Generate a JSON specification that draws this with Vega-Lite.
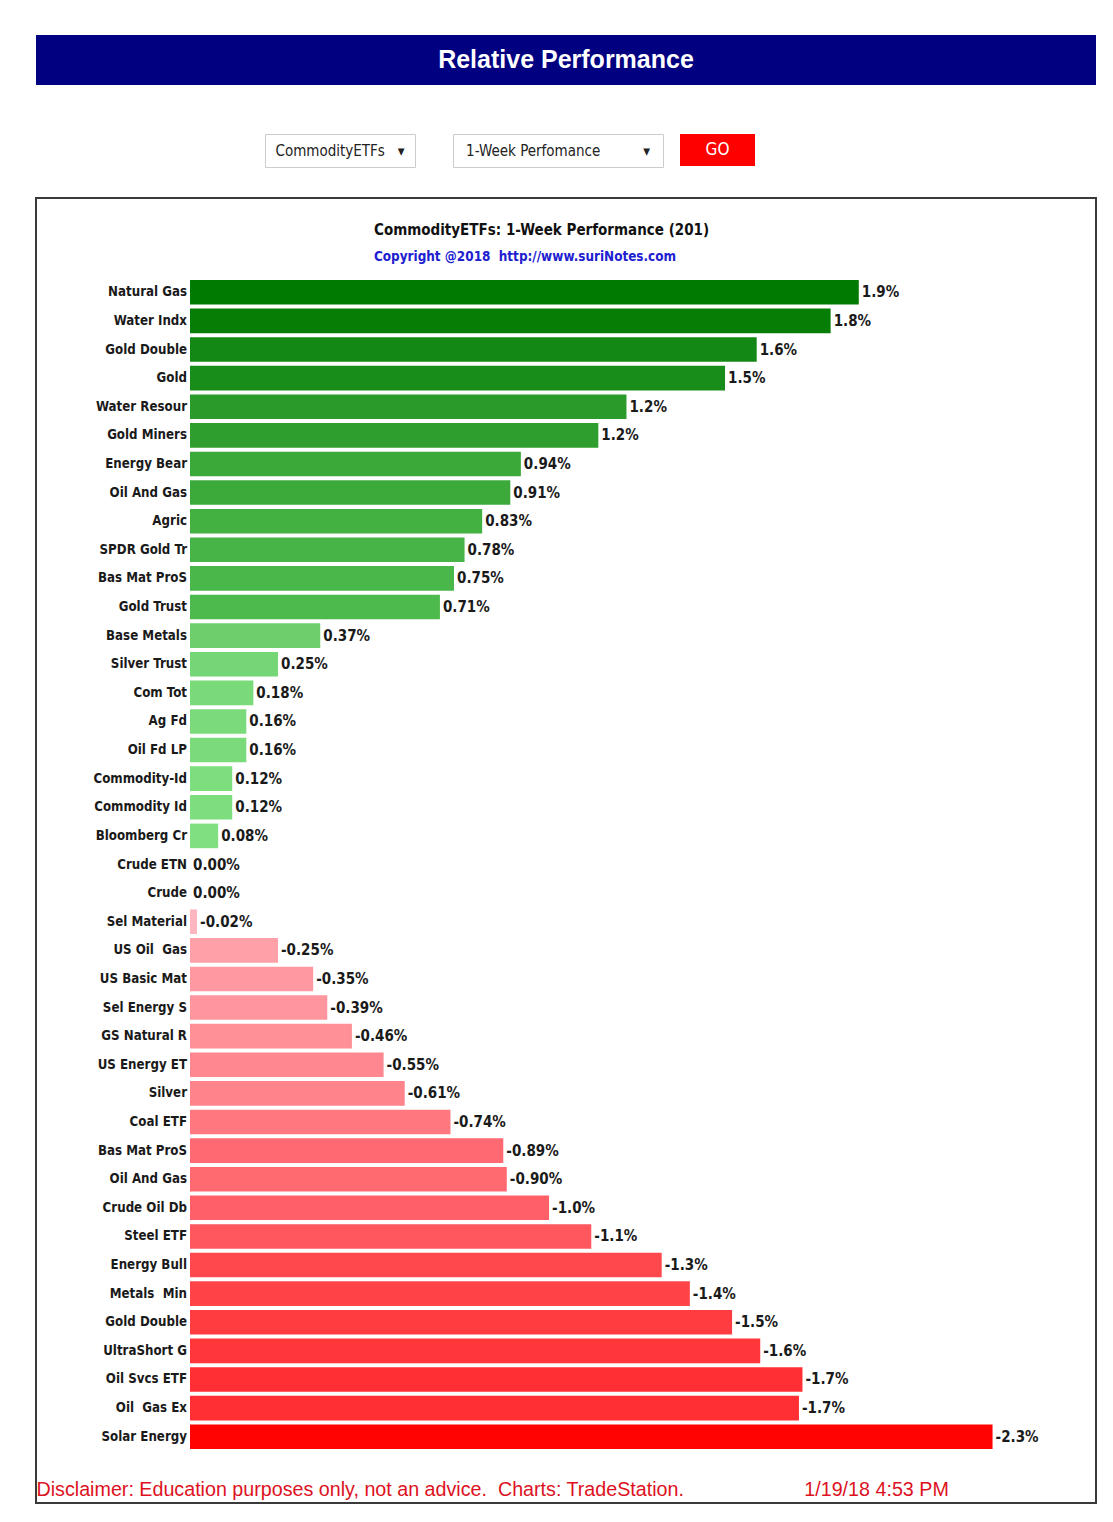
{
  "$schema": "https://vega.github.io/schema/vega-lite/v6.json",
  "background": "white",
  "padding": {"left": 35, "top": 35, "right": 0, "bottom": 0},
  "config": {
    "view": {"stroke": null},
    "locale": {"number": {"decimal": ".", "thousands": ",", "grouping": [3], "currency": ["$", ""], "minus": "-", "percent": "%"}}
  },
  "spacing": 29,
  "vconcat": [
    {
      "spacing": 48,
      "vconcat": [
        {
          "width": 1060, "height": 50,
          "view": {"fill": "#000080", "stroke": null},
          "data": {"values": [{"t": "Relative Performance"}]},
          "mark": {"type": "text", "color": "white", "font": "Liberation Sans", "fontSize": 25, "fontWeight": "bold"},
          "encoding": {"text": {"field": "t", "type": "nominal"}}
        },
        {
          "spacing": 0,
          "hconcat": [
            {"width": 228, "height": 33, "data": {"values": []}, "mark": "text", "encoding": {}},
            {
              "width": 150, "height": 33,
              "view": {"stroke": "#cccccc", "fill": "white"},
              "data": {"values": [{"t": "CommodityETFs\u00a0\u00a0\u00a0▾"}]},
              "mark": {"type": "text", "font": "DejaVu Sans Condensed, Liberation Sans, sans-serif", "fontSize": 15, "color": "#222222"},
              "encoding": {"text": {"field": "t", "type": "nominal"}}
            },
            {"width": 36, "height": 33, "data": {"values": []}, "mark": "text", "encoding": {}},
            {
              "width": 210, "height": 33,
              "view": {"stroke": "#cccccc", "fill": "white"},
              "data": {"values": [{"t": "1-Week Perfomance\u00a0\u00a0\u00a0\u00a0\u00a0\u00a0\u00a0\u00a0\u00a0\u00a0▾"}]},
              "mark": {"type": "text", "font": "DejaVu Sans Condensed, Liberation Sans, sans-serif", "fontSize": 15, "color": "#222222"},
              "encoding": {"text": {"field": "t", "type": "nominal"}}
            },
            {"width": 16, "height": 33, "data": {"values": []}, "mark": "text", "encoding": {}},
            {
              "width": 75, "height": 32,
              "view": {"fill": "#ff0000", "stroke": null},
              "data": {"values": [{"t": "GO"}]},
              "mark": {"type": "text", "font": "DejaVu Sans Condensed, Liberation Sans, sans-serif", "fontSize": 17, "color": "white"},
              "encoding": {"text": {"field": "t", "type": "nominal"}}
            }
          ]
        }
      ]
    },
    {
      "width": 1060, "height": 1305,
      "view": {"stroke": "#3a3a3a", "strokeWidth": 2},
      "title": {
        "text": "CommodityETFs: 1-Week Performance (201)",
        "subtitle": "Copyright @2018\u00a0\u00a0http://www.suriNotes.com",
        "anchor": "start",
        "offset": -65,
        "dx": 338,
        "font": "DejaVu Sans Condensed, Liberation Sans, sans-serif",
        "fontSize": 15,
        "fontWeight": "bold",
        "color": "#111111",
        "subtitleFont": "DejaVu Sans Condensed, Liberation Sans, sans-serif",
        "subtitleFontSize": 13.4,
        "subtitleFontWeight": "bold",
        "subtitleColor": "#2020d0",
        "subtitlePadding": 12
      },
      "data": {"values": [
        {"rank": 1, "name": "Natural Gas", "pct": 0.0190},
        {"rank": 2, "name": "Water Indx", "pct": 0.0182},
        {"rank": 3, "name": "Gold Double", "pct": 0.0161},
        {"rank": 4, "name": "Gold", "pct": 0.0152},
        {"rank": 5, "name": "Water Resour", "pct": 0.0124},
        {"rank": 6, "name": "Gold Miners", "pct": 0.0116},
        {"rank": 7, "name": "Energy Bear", "pct": 0.0094},
        {"rank": 8, "name": "Oil And Gas", "pct": 0.0091},
        {"rank": 9, "name": "Agric", "pct": 0.0083},
        {"rank": 10, "name": "SPDR Gold Tr", "pct": 0.0078},
        {"rank": 11, "name": "Bas Mat ProS", "pct": 0.0075},
        {"rank": 12, "name": "Gold Trust", "pct": 0.0071},
        {"rank": 13, "name": "Base Metals", "pct": 0.0037},
        {"rank": 14, "name": "Silver Trust", "pct": 0.0025},
        {"rank": 15, "name": "Com Tot", "pct": 0.0018},
        {"rank": 16, "name": "Ag Fd", "pct": 0.0016},
        {"rank": 17, "name": "Oil Fd LP", "pct": 0.0016},
        {"rank": 18, "name": "Commodity-Id", "pct": 0.0012},
        {"rank": 19, "name": "Commodity Id", "pct": 0.0012},
        {"rank": 20, "name": "Bloomberg Cr", "pct": 0.0008},
        {"rank": 21, "name": "Crude ETN", "pct": 0.0},
        {"rank": 22, "name": "Crude", "pct": 0.0},
        {"rank": 23, "name": "Sel Material", "pct": -0.0002},
        {"rank": 24, "name": "US Oil\u00a0 Gas", "pct": -0.0025},
        {"rank": 25, "name": "US Basic Mat", "pct": -0.0035},
        {"rank": 26, "name": "Sel Energy S", "pct": -0.0039},
        {"rank": 27, "name": "GS Natural R", "pct": -0.0046},
        {"rank": 28, "name": "US Energy ET", "pct": -0.0055},
        {"rank": 29, "name": "Silver", "pct": -0.0061},
        {"rank": 30, "name": "Coal ETF", "pct": -0.0074},
        {"rank": 31, "name": "Bas Mat ProS", "pct": -0.0089},
        {"rank": 32, "name": "Oil And Gas", "pct": -0.0090},
        {"rank": 33, "name": "Crude Oil Db", "pct": -0.0102},
        {"rank": 34, "name": "Steel ETF", "pct": -0.0114},
        {"rank": 35, "name": "Energy Bull", "pct": -0.0134},
        {"rank": 36, "name": "Metals\u00a0 Min", "pct": -0.0142},
        {"rank": 37, "name": "Gold Double", "pct": -0.0154},
        {"rank": 38, "name": "UltraShort G", "pct": -0.0162},
        {"rank": 39, "name": "Oil Svcs ETF", "pct": -0.0174},
        {"rank": 40, "name": "Oil\u00a0 Gas Ex", "pct": -0.0173},
        {"rank": 41, "name": "Solar Energy", "pct": -0.0228}
      ]},
      "encoding": {
        "y": {"field": "rank", "type": "ordinal", "axis": null,
              "scale": {"range": [82, 1251], "paddingInner": 0.14, "paddingOuter": 0}}
      },
      "layer": [
        {
          "transform": [{"filter": "datum.pct >= 0"}],
          "layer": [
            {
              "mark": {"type": "bar"},
              "encoding": {
                "x": {"field": "pct", "type": "quantitative",
                      "scale": {"domain": [-0.004375, 0.025739], "nice": false, "zero": false},
                      "axis": null},
                "color": {"field": "pct", "type": "quantitative", "legend": null,
                          "scale": {
                            "domain": [-0.023, -0.0172, -0.014, -0.01, -0.0074, -0.0046, -0.0025, -0.0002, 0, 0.0008, 0.0037, 0.0071, 0.009, 0.012, 0.015, 0.019],
                            "range": ["#ff0000", "#ff3034", "#ff4448", "#ff6068", "#ff7880", "#ff9098", "#ffa0a8", "#ffb6c1", "#80e080", "#80e080", "#6ccf6c", "#4cba4c", "#3cab3c", "#2c9c2c", "#1a8e1a", "#007a00"]
                          }}
              }
            },
            {
              "mark": {"type": "text", "align": "left", "dx": 3, "font": "DejaVu Sans Condensed, Liberation Sans, sans-serif", "fontSize": 15, "fontWeight": "bold", "color": "#1a1a1a"},
              "encoding": {
                "x": {"field": "pct", "type": "quantitative",
                      "scale": {"domain": [-0.004375, 0.025739], "nice": false, "zero": false}, "axis": null},
                "text": {"condition": {"test": "abs(datum.pct) >= 0.0095", "field": "pct", "type": "quantitative", "format": ".1%"},
                         "field": "pct", "type": "quantitative", "format": ".2%"}
              }
            }
          ]
        },
        {
          "transform": [{"filter": "datum.pct < 0"}],
          "layer": [
            {
              "mark": {"type": "bar"},
              "encoding": {
                "x": {"field": "pct", "type": "quantitative",
                      "scale": {"domain": [-0.025739, 0.004375], "reverse": true, "nice": false, "zero": false},
                      "axis": null},
                "color": {"field": "pct", "type": "quantitative", "legend": null}
              }
            },
            {
              "mark": {"type": "text", "align": "left", "dx": 3, "font": "DejaVu Sans Condensed, Liberation Sans, sans-serif", "fontSize": 15, "fontWeight": "bold", "color": "#1a1a1a"},
              "encoding": {
                "x": {"field": "pct", "type": "quantitative",
                      "scale": {"domain": [-0.025739, 0.004375], "reverse": true, "nice": false, "zero": false}, "axis": null},
                "text": {"condition": {"test": "abs(datum.pct) >= 0.0095", "field": "pct", "type": "quantitative", "format": ".1%"},
                         "field": "pct", "type": "quantitative", "format": ".2%"}
              }
            }
          ]
        },
        {
          "mark": {"type": "text", "align": "right", "dx": -3, "font": "DejaVu Sans Condensed, Liberation Sans, sans-serif", "fontSize": 13.2, "fontWeight": "bold", "color": "#1a1a1a"},
          "encoding": {
            "x": {"datum": 0, "type": "quantitative",
                  "scale": {"domain": [-0.004375, 0.025739], "nice": false, "zero": false},
                  "axis": {
                    "orient": "bottom",
                    "title": "Disclaimer: Education purposes only, not an advice.\u00a0\u00a0Charts: TradeStation.\u00a0\u00a0\u00a0\u00a0\u00a0\u00a0\u00a0\u00a0\u00a0\u00a0\u00a0\u00a0\u00a0\u00a0\u00a0\u00a0\u00a0\u00a0\u00a0\u00a0\u00a0\u00a01/19/18 4:53 PM",
                    "labels": false, "ticks": false, "domain": false, "grid": false,
                    "offset": -24,
                    "titlePadding": 0,
                    "titleAnchor": "start",
                    "titleColor": "#dd1122",
                    "titleFont": "Liberation Sans",
                    "titleFontSize": 19.7,
                    "titleFontWeight": "normal"
                  }},
            "text": {"field": "name", "type": "nominal"}
          }
        }
      ],
      "resolve": {"scale": {"x": "independent"}}
    }
  ]
}
